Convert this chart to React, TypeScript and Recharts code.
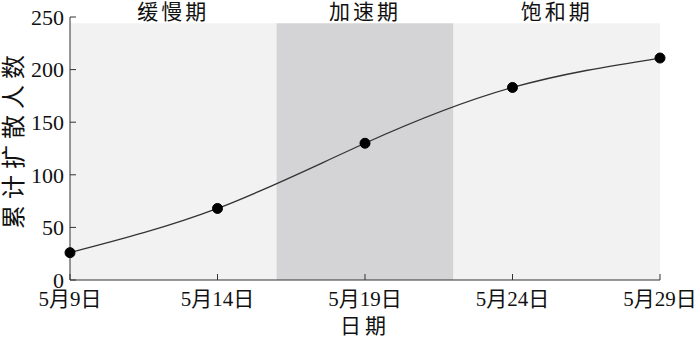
import React from 'react';
import { ComposedChart, Line, XAxis, YAxis, ReferenceArea, Label } from 'recharts';

const days = [9, 14, 19, 24, 29];
const cumulative = [26, 68, 130, 183, 211];
const yTicks = [0, 50, 100, 150, 200, 250];
const phaseNames = ['缓慢期', '加速期', '饱和期'];
const phaseStart = [9, 16, 22];
const phaseEnd = [16, 22, 29];
const phaseFill = ['#f2f2f2', '#d4d4d6', '#f2f2f2'];
const shadeTop = 244;
const xTitle = '日期';
const yTitle = '累计扩散人数';

const data = days.map((d, i) => ({ day: d, value: cumulative[i] }));
const FONT = '"Liberation Serif", "Times New Roman", "Noto Sans CJK SC", serif';

const YTitle = () => (
  <text
    x={14}
    y={139}
    transform="rotate(-90 14 139)"
    textAnchor="middle"
    dominantBaseline="central"
    fontSize={24}
    letterSpacing={6}
    fill="#111"
    fontFamily={FONT}
  >
    {yTitle}
  </text>
);

export default function App() {
  return (
    <div style={{ position: 'absolute', left: 0, top: 0, width: 700, height: 338, background: '#fff', fontFamily: FONT }}>
      <ComposedChart width={700} height={338} data={data} margin={{ top: 17, right: 40, bottom: 0, left: 20 }}>
        {phaseNames.map((n, i) => (
          <ReferenceArea
            key={n}
            x1={phaseStart[i]}
            x2={phaseEnd[i]}
            y1={0}
            y2={shadeTop}
            fill={phaseFill[i]}
            fillOpacity={1}
            stroke="none"
            ifOverflow="visible"
            label={{ value: n, position: 'top', offset: 4, fontSize: 21, letterSpacing: 3, fill: '#111', fontFamily: FONT }}
          />
        ))}
        <XAxis
          dataKey="day"
          type="number"
          domain={[9, 29]}
          ticks={days}
          tickFormatter={(d: number) => `5月${d}日`}
          stroke="#333"
          tickSize={-6}
          tickMargin={17}
          tick={{ fontSize: 21, fill: '#111', fontFamily: FONT }}
          height={58}
        >
          <Label value={xTitle} position="insideBottom" offset={5} style={{ fontSize: 21, letterSpacing: 4, fill: '#111', fontFamily: FONT }} />
        </XAxis>
        <YAxis
          type="number"
          domain={[0, 250]}
          ticks={yTicks}
          stroke="#333"
          tickSize={-6}
          tickMargin={12}
          width={50}
          tick={{ fontSize: 22, fill: '#111', fontFamily: FONT }}
        >
          <Label content={() => <YTitle />} />
        </YAxis>
        <Line
          type="natural"
          dataKey="value"
          stroke="#333"
          strokeWidth={1.3}
          dot={{ r: 5, fill: '#000', stroke: '#000', strokeWidth: 1 }}
          isAnimationActive={false}
        />
      </ComposedChart>
    </div>
  );
}
